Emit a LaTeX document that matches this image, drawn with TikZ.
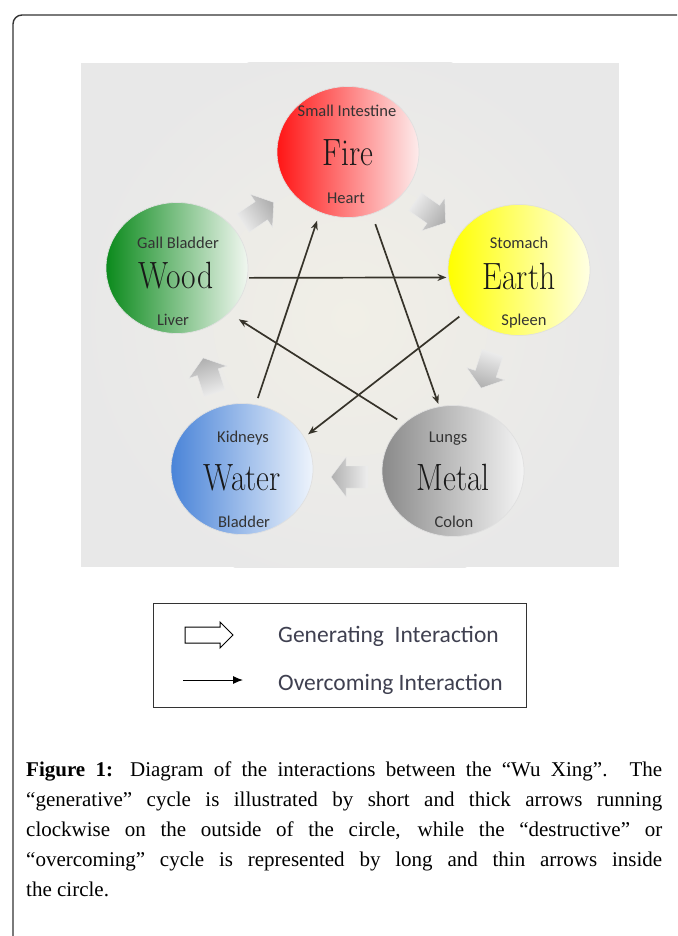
\documentclass[tikz,border=0pt]{standalone}
\usepackage{fontspec}
\usepackage{graphicx}
\newfontfamily\capfont{Liberation Serif}
\newfontfamily\lblfont{Carlito}
\usetikzlibrary{shapes.geometric,arrows.meta}
\definecolor{bgGrey}{HTML}{E8E8E8}
\definecolor{bgCream}{HTML}{F1EFE7}
\definecolor{ovc}{HTML}{36332A}
\definecolor{txt}{HTML}{333333}
\definecolor{legtxt}{HTML}{3F4050}
\definecolor{glight}{HTML}{EEEEEE}
\definecolor{gdark}{HTML}{B0B0B0}
\definecolor{fireL}{HTML}{FF1515}
\definecolor{fireM}{HTML}{F45C5C}
\definecolor{fireR}{HTML}{FDECEC}
\definecolor{woodL}{HTML}{0B8A1C}
\definecolor{woodM}{HTML}{5AAE5E}
\definecolor{woodR}{HTML}{F1F7F0}
\definecolor{earthL}{HTML}{FFFF00}
\definecolor{earthM}{HTML}{FFFF70}
\definecolor{earthR}{HTML}{FFFFE4}
\definecolor{waterL}{HTML}{4A84D8}
\definecolor{waterM}{HTML}{96B8E8}
\definecolor{waterR}{HTML}{EEF4FC}
\definecolor{metalL}{HTML}{8A8A8A}
\definecolor{metalM}{HTML}{C0C0C0}
\definecolor{metalR}{HTML}{F4F4F4}
\begin{document}
\begin{tikzpicture}[x=1pt,y=-1pt,
  elem/.style={ellipse, minimum width=142pt, minimum height=131pt, inner sep=0pt, outer sep=0pt, draw=black!12, line width=0.7pt},
  small/.style={font=\lblfont\fontsize{16.5}{18}\selectfont, text=txt, anchor=base, inner sep=0pt},
  big/.style={font=\fontsize{38}{40}\selectfont, text=black!90, anchor=base, inner sep=0pt},
  over/.style={draw=ovc, line width=1.7pt, -{Stealth[length=9pt,width=7pt]}},
  genarr/.style={draw=black!8, line width=0.4pt},
  legtext/.style={font=\lblfont\fontsize{23.5}{26}\selectfont, text=legtxt, anchor=base west, inner sep=0pt}
]
\useasboundingbox (0,0) rectangle (677,936);
% outer frame
\begin{scope}
\clip (0,0) rectangle (677,936);
\draw[line width=1.4pt, draw=black!80, rounded corners=9pt] (13,15) rectangle (730,990);
\end{scope}
% background of the figure
\fill[bgGrey] (81,63) rectangle (619,567);
\begin{scope}
\clip (81,63) rectangle (619,567);
\shade[inner color=bgCream, outer color=bgGrey] (350,318) circle[radius=275pt];
\end{scope}

% generating arrows
\newcommand\genarrow[4]{%
  \path[genarr, top color=gdark, bottom color=glight, shading angle=#4, shift={(#1,#2)}, rotate=#3]
    (-18,-11) -- (4,-11) -- (4,-20) -- (19,0) -- (4,20) -- (4,11) -- (-18,11) -- cycle;}
\genarrow{258}{213}{34}{-56}
\genarrow{430}{212}{-35}{-125}
\genarrow{487}{370}{-108}{162}
\genarrow{350}{477}{180}{90}
\genarrow{209}{376}{108}{18}

% element circles
\node[elem, left color=fireL, middle color=fireM, right color=fireR] (fire) at (348,152) {};
\node[elem, left color=woodL, middle color=woodM, right color=woodR] (wood) at (177,268) {};
\node[elem, left color=earthL, middle color=earthM, right color=earthR] (earth) at (519,270) {};
\node[elem, left color=waterL, middle color=waterM, right color=waterR] (water) at (242,469) {};
\node[elem, left color=metalL, middle color=metalM, right color=metalR] (metal) at (453,471) {};

% labels
\node[small] (fireT) at (347,117) {Small Intestine};
\node[big] (fireN) at (348,166) {\scalebox{0.83}[1]{Fire}};
\node[small] (fireB) at (346,203) {Heart};
\node[small] (woodT) at (178,248) {Gall Bladder};
\node[big] (woodN) at (176,288) {\scalebox{0.83}[1]{Wood}};
\node[small] (woodB) at (173,325) {Liver};
\node[small] (earthT) at (519,248) {Stomach};
\node[big] (earthN) at (519,289) {\scalebox{0.83}[1]{Earth}};
\node[small] (earthB) at (524,325) {Spleen};
\node[small] (waterT) at (243,442) {Kidneys};
\node[big] (waterN) at (242,490) {\scalebox{0.83}[1]{Water}};
\node[small] (waterB) at (244,527) {Bladder};
\node[small] (metalT) at (448,442) {Lungs};
\node[big] (metalN) at (453,490) {\scalebox{0.83}[1]{Metal}};
\node[small] (metalB) at (454,527) {Colon};

% overcoming arrows
\draw[over, shorten <=2pt, shorten >=2pt] (wood.-8) -- (earth.186);
\draw[over, shorten <=11pt, shorten >=3pt] (fire.-69) -- (metal.102);
\draw[over, shorten <=8pt, shorten >=12pt] (metal.136) -- (wood.-41);
\draw[over, shorten <=7pt, shorten >=9pt] (water.78) -- (fire.-115);
\draw[over, shorten <=7pt, shorten >=5pt] (earth.218) -- (water.27);

% legend
\node[draw=black!80, line width=1pt, minimum width=373pt, minimum height=104pt, inner sep=0pt, anchor=north west] (legend) at (153,603) {};
\draw[line width=1pt, fill=white] (185,627) -- (220,627) -- (220,622) -- (233,635) -- (220,648) -- (220,643) -- (185,643) -- cycle;
\coordinate (lgA) at (183,680);
\coordinate (lgB) at (243,680);
\draw[line width=1pt, -{Latex[length=10pt,width=8pt]}] (lgA) -- (lgB);
\node[legtext] (lgGen) at (278,642) {Generating\ \ Interaction};
\node[legtext] (lgOver) at (278,690) {Overcoming Interaction};

% caption
\node[anchor=base west, text width=636pt, inner sep=0pt, align=justify,
      font=\capfont\fontsize{21}{30}\selectfont] (caption) at (26,776)
{\noindent\textbf{Figure 1:} Diagram of the interactions between the “Wu Xing”. The\linebreak
“generative” cycle is illustrated by short and thick arrows running\linebreak
clockwise on the outside of the circle, while the “destructive” or\linebreak
“overcoming” cycle is represented by long and thin arrows inside\linebreak
the circle.};
\end{tikzpicture}
\end{document}
